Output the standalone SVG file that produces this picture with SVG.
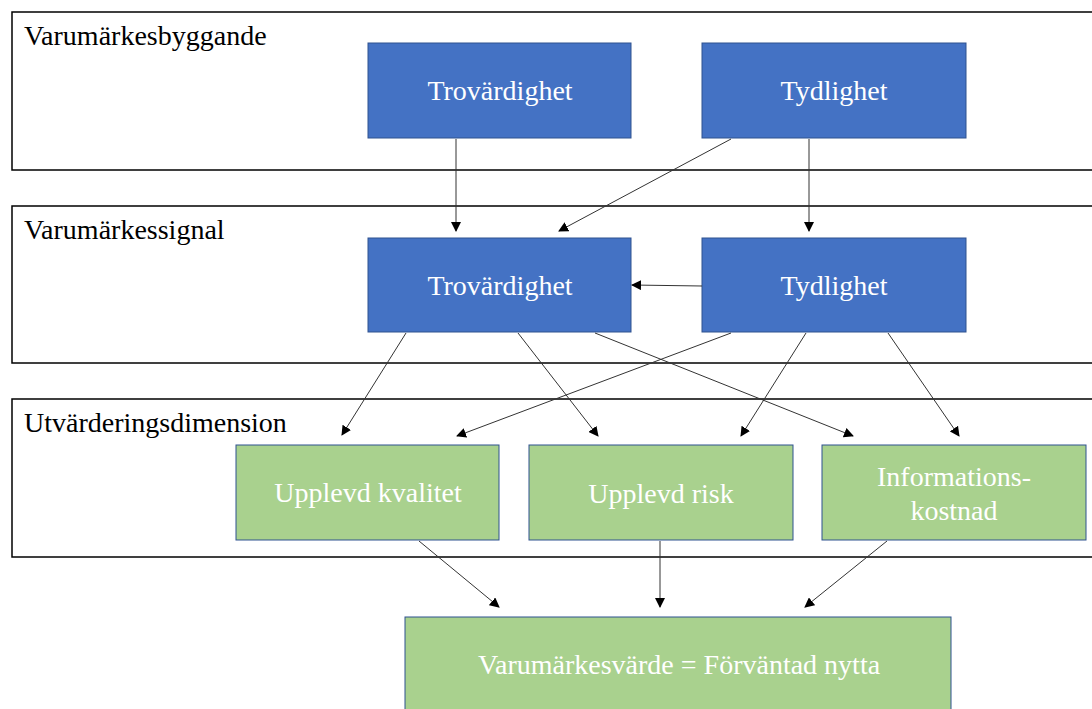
<svg xmlns="http://www.w3.org/2000/svg" width="1092" height="709" viewBox="0 0 1092 709">
<style>
.band{fill:#fff;stroke:#000;stroke-width:1.5}
.bl{font-family:'Liberation Serif','Times New Roman',Times,serif;font-size:28px;fill:#000}
.blue{fill:#4472C4;stroke:#2F528F;stroke-width:1}
.green{fill:#A9D18E;stroke:#2F528F;stroke-width:1}
.t{font-family:'Liberation Serif','Times New Roman',Times,serif;font-size:28px;fill:#fff;text-anchor:middle}
.c{stroke:#333;stroke-width:1;fill:none;marker-end:url(#ah)}
</style>
<defs>
<marker id="ah" viewBox="0 0 10 10" refX="9" refY="5" markerWidth="10" markerHeight="10" markerUnits="userSpaceOnUse" orient="auto">
<path d="M0,0 L10,5 L0,10 z" fill="#000"/>
</marker>
</defs>
<g id="band1"><rect class="band" x="12" y="12" width="1100" height="158"/><text class="bl" x="24" y="45">Varumärkesbyggande</text></g>
<g id="band2"><rect class="band" x="12" y="206" width="1100" height="157"/><text class="bl" x="24" y="239">Varumärkessignal</text></g>
<g id="band3"><rect class="band" x="12" y="399" width="1100" height="158"/><text class="bl" x="24" y="432">Utvärderingsdimension</text></g>
<g id="trov1"><rect class="blue" x="368" y="43" width="263" height="95"/><text class="t" x="500" y="100">Trovärdighet</text></g>
<g id="tyd1"><rect class="blue" x="702" y="43" width="264" height="95"/><text class="t" x="834" y="100">Tydlighet</text></g>
<g id="trov2"><rect class="blue" x="368" y="238" width="263" height="94"/><text class="t" x="500" y="295">Trovärdighet</text></g>
<g id="tyd2"><rect class="blue" x="702" y="238" width="264" height="94"/><text class="t" x="834" y="295">Tydlighet</text></g>
<g id="kval"><rect class="green" x="236" y="445" width="263" height="95"/><text class="t" x="368" y="502">Upplevd kvalitet</text></g>
<g id="risk"><rect class="green" x="529" y="445" width="264" height="95"/><text class="t" x="661" y="503">Upplevd risk</text></g>
<g id="info"><rect class="green" x="822" y="445" width="264" height="95"/><text class="t" x="954" y="486">Informations-</text><text class="t" x="954" y="520">kostnad</text></g>
<g id="value"><rect class="green" x="405" y="617" width="546" height="110"/><text class="t" x="679" y="674">Varumärkesvärde = Förväntad nytta</text></g>
<g id="connectors">
<line class="c" x1="456" y1="139" x2="456" y2="231"/>
<line class="c" x1="731" y1="139" x2="559" y2="231"/>
<line class="c" x1="809" y1="139" x2="809" y2="231"/>
<line class="c" x1="702" y1="286" x2="632" y2="285"/>
<line class="c" x1="406" y1="333" x2="342" y2="435"/>
<line class="c" x1="731" y1="333" x2="457" y2="436"/>
<line class="c" x1="518" y1="333" x2="598" y2="436"/>
<line class="c" x1="595" y1="333" x2="853" y2="436"/>
<line class="c" x1="806" y1="333" x2="741" y2="436"/>
<line class="c" x1="888" y1="333" x2="959" y2="436"/>
<line class="c" x1="419" y1="541" x2="499" y2="607"/>
<line class="c" x1="660" y1="541" x2="660" y2="607"/>
<line class="c" x1="887" y1="541" x2="805" y2="607"/>
</g>
</svg>
